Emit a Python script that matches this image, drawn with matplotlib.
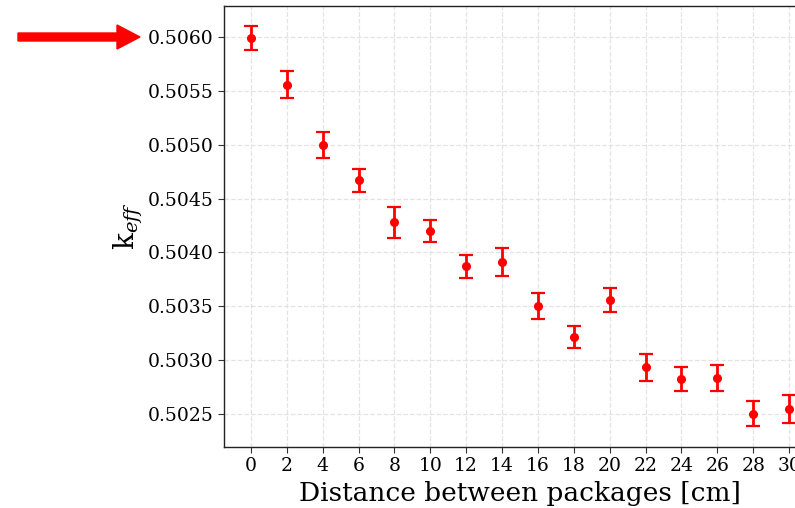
import matplotlib
matplotlib.use("Agg")
import matplotlib.pyplot as plt
from matplotlib.patches import FancyArrow

distance = [0, 2, 4, 6, 8, 10, 12, 14, 16, 18, 20, 22, 24, 26, 28, 30]
keff = [0.50599, 0.50556, 0.50500, 0.50467, 0.50428, 0.50420, 0.50387, 0.50391,
        0.50350, 0.50321, 0.50356, 0.50293, 0.50282, 0.50283, 0.50250, 0.50254]
keff_err = [0.000111, 0.000125, 0.000120, 0.000108, 0.000144, 0.000105, 0.000108, 0.000130,
            0.000119, 0.000102, 0.000111, 0.000123, 0.000111, 0.000122, 0.000119, 0.000130]
xticks = list(range(0, 31, 2))
yticks = [0.5025, 0.5030, 0.5035, 0.5040, 0.5045, 0.5050, 0.5055, 0.5060]

plt.rcParams['font.family'] = ['DejaVu Serif']
plt.rcParams['mathtext.fontset'] = 'dejavuserif'

fig = plt.figure(figsize=(7.95, 5.08), dpi=100)
ax = fig.add_axes([224/795, 61/508, 592/795, 441/508])

ax.errorbar(distance, keff, yerr=keff_err, fmt='o', color='red', ecolor='red',
            markersize=5.5, elinewidth=2, capsize=5, capthick=1.6, zorder=3)

ax.set_xlim(-1.5, 31.5)
ax.set_ylim(0.50219, 0.50629)
ax.set_xticks(xticks)
ax.set_yticks(yticks)
ax.set_yticklabels([f"{v:.4f}" for v in yticks])
ax.tick_params(axis='both', labelsize=13.5, direction='out', length=4, color='#333333')
ax.grid(True, linestyle='--', color='#dddddd', linewidth=0.9, alpha=0.8)
ax.set_axisbelow(True)
for s in ax.spines.values():
    s.set_color('#222222')
    s.set_linewidth(1.0)

ax.set_xlabel("Distance between packages [cm]", fontsize=19, labelpad=4)
ax.set_ylabel(r"k$_{eff}$", fontsize=20, labelpad=2)

arrow = FancyArrow(18, 508 - 37, 122, 0, width=8, head_width=24, head_length=23,
                   length_includes_head=True, color='red', transform=None)
fig.add_artist(arrow)

fig.savefig("out.png", dpi=100)
